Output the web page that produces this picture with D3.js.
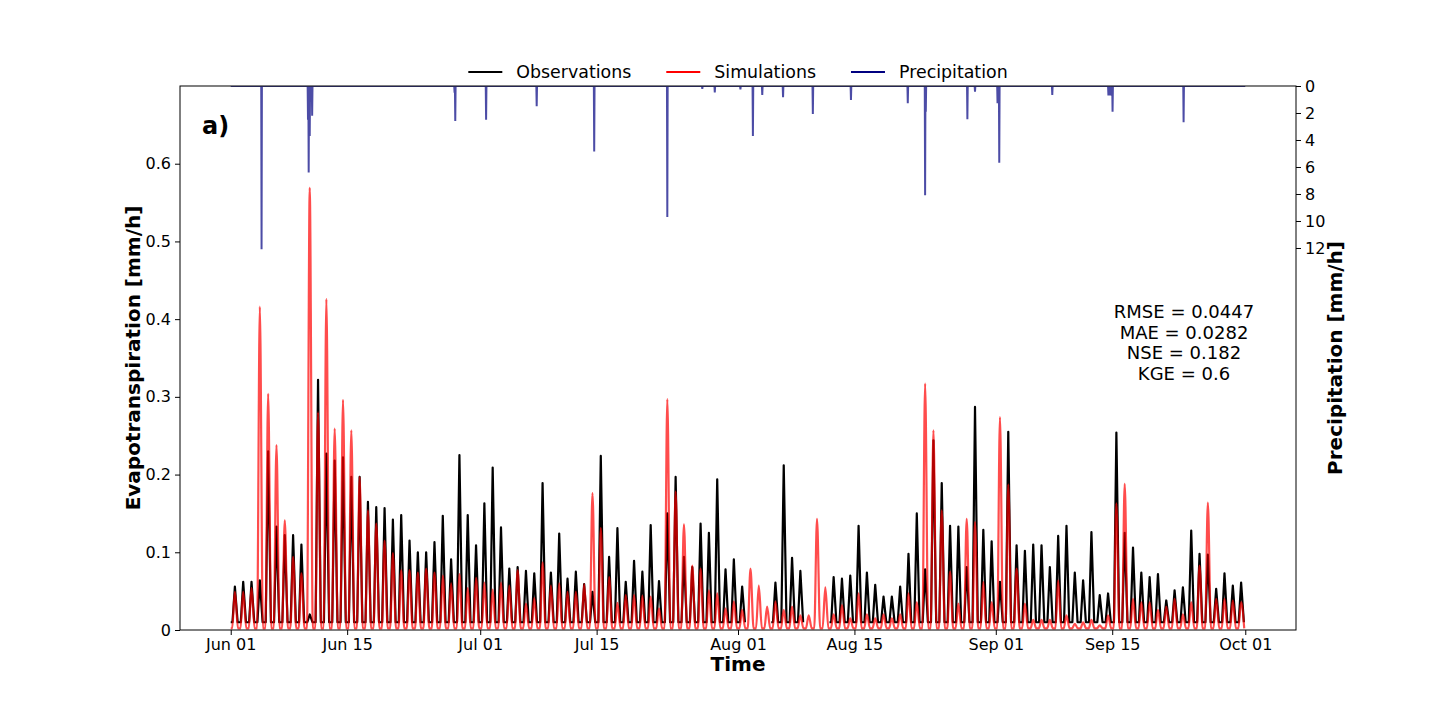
<!DOCTYPE html>
<html lang="en">
<head>
    <meta charset="UTF-8">
    <title>Evapotranspiration</title>
    <script src="https://cdn.jsdelivr.net/npm/d3@7"></script>
    <style>
        body { margin: 0; background: #fff; }
        text { font-family: "DejaVu Sans", sans-serif; }
    </style>
</head>
<body>
<svg id="chart" width="1440" height="720"></svg>
<script>

    // x tick positions (days after Jun 01) and their labels
    const tickDays = [0, 14, 30, 44, 61, 75, 92, 106, 122];
    const tickLabels = ["Jun 01", "Jun 15", "Jul 01", "Jul 15", "Aug 01", "Aug 15", "Sep 01", "Sep 15", "Oct 01"];

    // daily peak evapotranspiration [mm/h], one per day from Jun 01, null = no observation
    const obsPeak = [
        0.056, 0.062, 0.062, 0.064, 0.230, 0.133, 0.122, 0.122, 0.110, 0.020,
        0.322, 0.227, 0.218, 0.222, 0.197, 0.197, 0.165, 0.158, 0.157, 0.142,
        0.148, 0.115, 0.100, 0.100, 0.113, 0.147, 0.091, 0.225, 0.148, 0.109,
        0.163, 0.209, 0.132, 0.079, 0.081, 0.076, 0.073, 0.189, 0.074, 0.124,
        0.066, 0.075, 0.059, 0.049, 0.224, 0.094, 0.131, 0.062, 0.089, 0.075,
        0.135, 0.063, 0.150, 0.197, 0.094, 0.081, 0.137, 0.125, 0.194, 0.078,
        0.091, 0.056, null, null, null, 0.061, 0.212, 0.093, 0.076, null,
        null, null, 0.068, 0.066, 0.070, 0.134, 0.074, 0.058, 0.043, 0.043,
        0.056, 0.098, 0.150, 0.078, 0.244, 0.189, 0.134, 0.133, 0.081, 0.287,
        0.129, 0.114, 0.062, 0.255, 0.109, 0.102, 0.110, 0.109, 0.081, 0.121,
        0.134, 0.074, 0.064, 0.126, 0.045, 0.047, 0.254, 0.125, 0.106, 0.074,
        0.068, 0.072, 0.038, 0.051, 0.055, 0.128, 0.098, 0.097, 0.053, 0.073,
        0.057, 0.061
    ];
    const simPeak = [
        0.049, 0.049, 0.054, 0.416, 0.304, 0.238, 0.141, 0.094, 0.073, 0.569,
        0.280, 0.426, 0.259, 0.296, 0.257, 0.197, 0.154, 0.137, 0.115, 0.099,
        0.077, 0.077, 0.074, 0.079, 0.074, 0.070, 0.060, 0.072, 0.054, 0.067,
        0.061, 0.052, 0.061, 0.057, 0.077, 0.034, 0.041, 0.087, 0.057, 0.060,
        0.049, 0.049, 0.059, 0.176, 0.131, 0.068, 0.035, 0.045, 0.045, 0.044,
        0.043, 0.028, 0.297, 0.178, 0.136, 0.083, 0.079, 0.051, 0.047, 0.028,
        0.037, 0.026, 0.079, 0.057, 0.030, 0.037, 0.026, 0.030, 0.019, 0.019,
        0.143, 0.055, 0.020, 0.032, 0.015, 0.047, 0.020, 0.015, 0.020, 0.015,
        0.020, 0.047, 0.036, 0.317, 0.257, 0.154, 0.075, 0.034, 0.143, 0.139,
        0.062, 0.036, 0.274, 0.187, 0.079, 0.034, 0.013, 0.013, 0.013, 0.064,
        0.019, 0.008, 0.010, 0.013, 0.006, 0.019, 0.163, 0.188, 0.040, 0.036,
        0.036, 0.026, 0.030, 0.040, 0.020, 0.036, 0.083, 0.164, 0.040, 0.040,
        0.038, 0.036
    ];
    // night-time level of each series [mm/h]
    const obsNight = 0.010;
    const simNight = 0.002;

    // precipitation events: day after Jun 01 and amount [mm/h]
    const precipDay = [3.69, 9.30, 9.36, 9.50, 9.80, 26.9, 27.0, 30.7, 36.8, 43.7,
        52.5, 56.7, 58.2, 61.3, 62.8, 63.9, 66.4, 70.0, 74.6, 81.4,
        83.5, 83.6, 88.6, 89.5, 92.2, 92.4, 98.8, 105.55, 105.6, 105.65,
        105.7, 105.75, 105.8, 105.85, 105.9, 105.95, 106.05, 114.6];
    const precipMm = [12.1, 2.5, 6.4, 3.7, 2.2, 0.5, 2.6, 2.5, 1.5, 4.85,
        9.7, 0.22, 0.47, 0.25, 3.7, 0.67, 0.84, 2.07, 1.04, 1.28,
        8.1, 1.9, 2.47, 0.43, 1.28, 5.68, 0.67, 0.7, 0.3, 0.7,
        0.5, 0.7, 0.2, 0.7, 0.6, 0.7, 1.9, 2.69];

    const stats = ["RMSE = 0.0447", "MAE = 0.0282", "NSE = 0.182", "KGE = 0.6"];

    const DAY = 86400000;
    const HOUR = 3600000;
    const t0 = Date.UTC(2020, 5, 1);
    const nDays = obsPeak.length;

    const mLeft = 180, mRight = 1296, mTop = 86, mBottom = 630;

    const svg = d3.select("#chart");

    const x = d3.scaleUtc()
        .domain([new Date(t0 - 6.1 * DAY), new Date(t0 + (nDays + 6.1) * DAY)])
        .range([mLeft, mRight]);
    const y = d3.scaleLinear().domain([0, 0.7]).range([mBottom, mTop]);
    const yP = d3.scaleLinear().domain([0, 40.3]).range([mTop, mBottom]);

    // turn the daily peaks into a day/night curve (hours of rise, peak, fall)
    function dailySeries(peaks, night, hours) {
        let pts = [];
        peaks.forEach(function(p, d) {
            [[0, night], [hours[0], night], [hours[1], p], [hours[2], night]].forEach(function(h) {
                pts.push({t: new Date(t0 + d * DAY + h[0] * HOUR), v: p === null ? null : h[1]});
            });
        });
        return pts;
    }
    const obsData = dailySeries(obsPeak, obsNight, [5, 12, 20]);
    const simData = dailySeries(simPeak, simNight, [4, 12, 21]);

    // hourly precipitation, dry hours are zero
    let precipHourly = new Array(nDays * 24 + 1).fill(0);
    precipDay.forEach(function(d, i) {
        precipHourly[Math.round(d * 24)] = precipMm[i];
    });
    const precipData = precipHourly.map(function(v, h) {
        return {t: new Date(t0 + h * HOUR), v: v};
    });

    svg.append("clipPath").attr("id", "plotclip")
        .append("rect").attr("x", mLeft).attr("y", mTop)
        .attr("width", mRight - mLeft).attr("height", mBottom - mTop);

    const plot = svg.append("g").attr("clip-path", "url(#plotclip)");

    plot.append("path")
        .datum(obsData)
        .attr("fill", "none")
        .attr("stroke", "#000")
        .attr("stroke-width", 2.2)
        .attr("stroke-linejoin", "round")
        .attr("d", d3.line()
            .defined(function(d) { return d.v !== null; })
            .x(function(d) { return x(d.t); })
            .y(function(d) { return y(d.v); }));

    plot.append("path")
        .datum(simData)
        .attr("fill", "none")
        .attr("stroke", "red")
        .attr("stroke-opacity", 0.7)
        .attr("stroke-width", 2.2)
        .attr("d", d3.line()
            .curve(d3.curveMonotoneX)
            .x(function(d) { return x(d.t); })
            .y(function(d) { return y(d.v); }));

    plot.append("path")
        .datum(precipData)
        .attr("fill", "none")
        .attr("stroke", "navy")
        .attr("stroke-opacity", 0.7)
        .attr("stroke-width", 2)
        .attr("d", d3.line()
            .x(function(d) { return x(d.t); })
            .y(function(d) { return yP(d.v); }));

    // frame
    svg.append("rect")
        .attr("x", mLeft).attr("y", mTop)
        .attr("width", mRight - mLeft).attr("height", mBottom - mTop)
        .attr("fill", "none").attr("stroke", "#000").attr("stroke-width", 1);

    // axes
    const xAxis = d3.axisBottom(x)
        .tickValues(tickDays.map(function(d) { return new Date(t0 + d * DAY); }))
        .tickFormat(function(d, i) { return tickLabels[i]; })
        .tickSize(5).tickPadding(4);
    const yAxis = d3.axisLeft(y)
        .tickValues([0, 0.1, 0.2, 0.3, 0.4, 0.5, 0.6])
        .tickFormat(function(d) { return d === 0 ? "0" : d3.format(".1f")(d); })
        .tickSize(5).tickPadding(4);
    const yPAxis = d3.axisRight(yP)
        .tickValues([0, 2, 4, 6, 8, 10, 12])
        .tickSize(5).tickPadding(4);

    function styleAxis(g) {
        g.select(".domain").remove();
        g.selectAll("text").attr("font-size", 16).attr("fill", "#000")
            .attr("font-family", "DejaVu Sans, sans-serif");
        g.selectAll("line").attr("stroke", "#000");
    }
    svg.append("g").attr("transform", "translate(0," + mBottom + ")").call(xAxis).call(styleAxis);
    svg.append("g").attr("transform", "translate(" + mLeft + ",0)").call(yAxis).call(styleAxis);
    svg.append("g").attr("transform", "translate(" + mRight + ",0)").call(yPAxis).call(styleAxis);

    // axis titles
    svg.append("text")
        .attr("x", (mLeft + mRight) / 2).attr("y", 671)
        .attr("text-anchor", "middle")
        .attr("font-size", 20).attr("font-weight", "bold")
        .text("Time");
    svg.append("text")
        .attr("transform", "translate(140,358) rotate(-90)")
        .attr("text-anchor", "middle")
        .attr("font-size", 20).attr("font-weight", "bold")
        .text("Evapotranspiration [mm/h]");
    svg.append("text")
        .attr("transform", "translate(1342,358) rotate(-90)")
        .attr("text-anchor", "middle")
        .attr("font-size", 20).attr("font-weight", "bold")
        .text("Precipitation [mm/h]");

    svg.append("text")
        .attr("x", 202).attr("y", 134)
        .attr("font-size", 24).attr("font-weight", "bold")
        .text("a)");

    svg.append("g").selectAll("text")
        .data(stats)
        .enter()
        .append("text")
        .attr("x", 1184)
        .attr("y", function(d, i) { return 318 + i * 20.7; })
        .attr("text-anchor", "middle")
        .attr("font-size", 18)
        .text(function(d) { return d; });

    // legend, centred above the plot
    const legendItems = [
        {name: "Observations", color: "#000"},
        {name: "Simulations", color: "red"},
        {name: "Precipitation", color: "navy"}
    ];
    const legend = svg.append("g");
    let cursor = 0;
    legendItems.forEach(function(item) {
        const g = legend.append("g").attr("transform", "translate(" + cursor + ",0)");
        g.append("line").attr("x1", 0).attr("x2", 34).attr("y1", 72).attr("y2", 72)
            .attr("stroke", item.color).attr("stroke-width", 2);
        const t = g.append("text").attr("x", 48).attr("y", 78)
            .attr("font-size", 17.4).text(item.name);
        cursor += 48 + t.node().getComputedTextLength() + 35;
    });
    const legendWidth = cursor - 35;
    legend.attr("transform", "translate(" + (738 - legendWidth / 2) + ",0)");
</script>
</body>
</html>
